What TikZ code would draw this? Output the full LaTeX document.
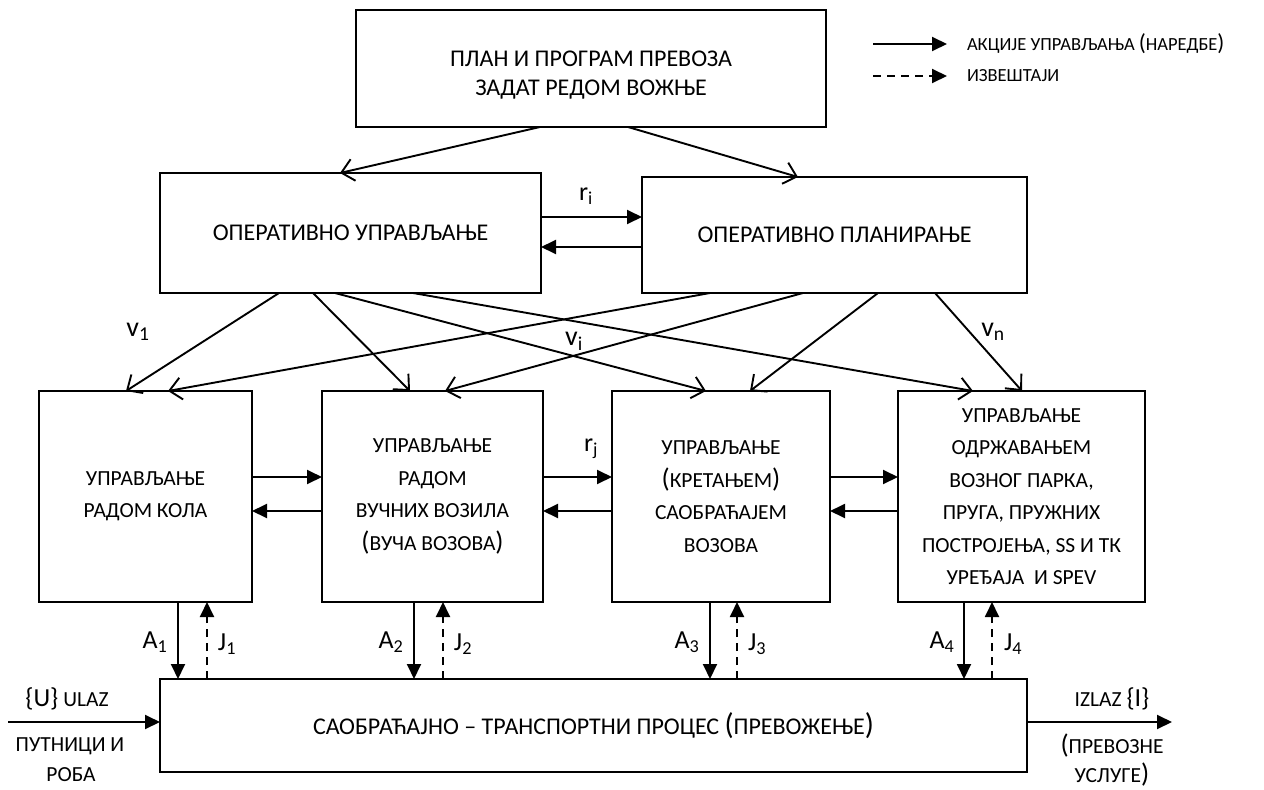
\documentclass[tikz,border=0pt]{standalone}
\usepackage{fontspec}
\setmainfont{Carlito}
\usetikzlibrary{arrows.meta}
\newcommand\bpar[1]{\scalebox{1.25}{#1}}
\begin{document}
\begin{tikzpicture}[x=1pt,y=-1pt,
  every node/.style={inner sep=0pt,outer sep=0pt},
  box/.style={draw,line width=1.9pt,align=center},
  bigtxt/.style={font=\fontsize{24}{33}\selectfont,align=center},
  toptxt/.style={font=\fontsize{24}{29}\selectfont,align=center},
  midtxt/.style={font=\fontsize{21.5}{32.5}\selectfont},
  legtxt/.style={font=\fontsize{18.5}{22}\selectfont},
  lbl/.style={font=\fontsize{26}{26}\selectfont},
  vlbl/.style={font=\fontsize{28}{28}\selectfont},
  side/.style={font=\fontsize{21.5}{24}\selectfont},
  ctrl/.style={line width=1.9pt,-{Triangle[length=15pt,width=14pt]}},
  rep/.style={ctrl,dash pattern=on 8pt off 6pt},
  diag/.style={line width=1.9pt,-{Straight Barb[length=12pt,width=22pt]}}]
\fill[white] (0,0) rectangle (1264,790);
\useasboundingbox (0,0) rectangle (1264,790);

% boxes
\node[box,minimum width=470,minimum height=117] (plan) at (591,68.5) {};
\node[toptxt] (plantext) at (591,75)
  {ПЛАН И ПРОГРАМ ПРЕВОЗА\\ЗАДАТ РЕДОМ ВОЖЊЕ};
\node[box,bigtxt,minimum width=381,minimum height=120] (ou) at (350.5,233)
  {ОПЕРАТИВНО УПРАВЉАЊЕ};
\node[box,bigtxt,minimum width=385,minimum height=116] (op) at (834.5,235)
  {ОПЕРАТИВНО ПЛАНИРАЊЕ};
\node[box,midtxt,minimum width=213,minimum height=211] (b1) at (145.5,496.5)
  {УПРАВЉАЊЕ\\РАДОМ КОЛА};
\node[box,midtxt,minimum width=221,minimum height=211] (b2) at (432.5,496.5)
  {УПРАВЉАЊЕ\\РАДОМ\\ВУЧНИХ ВОЗИЛА\\\bpar{(}ВУЧА ВОЗОВА\bpar{)}};
\node[box,midtxt,minimum width=218,minimum height=211] (b3) at (721,496.5)
  {УПРАВЉАЊЕ\\\bpar{(}КРЕТАЊЕМ\bpar{)}\\САОБРАЋАЈЕМ\\ВОЗОВА};
\node[box,midtxt,minimum width=247,minimum height=211] (b4) at (1021.5,496.5)
  {УПРАВЉАЊЕ\\ОДРЖАВАЊЕМ\\ВОЗНОГ ПАРКА,\\ПРУГА, ПРУЖНИХ\\ПОСТРОЈЕЊА, SS И ТК\\УРЕЂАЈА\ \ И SPEV};
\node[box,bigtxt,minimum width=867,minimum height=93] (proc) at (593.5,725.5)
  {САОБРАЋАЈНО – ТРАНСПОРТНИ ПРОЦЕС \bpar{(}ПРЕВОЖЕЊЕ\bpar{)}};

% legend
\coordinate (la1) at (873,44); \coordinate (la2) at (947,44);
\coordinate (lb1) at (873,76); \coordinate (lb2) at (947,76);
\draw[ctrl] (la1) -- (la2);
\draw[rep] (lb1) -- (lb2);
\node[legtxt,anchor=west] (lega) at (967,44) {АКЦИЈЕ УПРАВЉАЊА \bpar{(}НАРЕДБЕ\bpar{)}};
\node[legtxt,anchor=west] (legb) at (967,76) {ИЗВЕШТАЈИ};

% plan -> operative
\draw[diag] (plan.south -| 540,0) -- (ou.north -| 340,0);
\draw[diag] (plan.south -| 628,0) -- (op.north -| 798,0);

% ou <-> op
\draw[ctrl] (ou.east |- 0,217) -- (op.west |- 0,217);
\draw[ctrl] (op.west |- 0,247) -- (ou.east |- 0,247);
\node[lbl] (ri) at (586,196) {r\textsubscript{i}};

% diagonals
\draw[diag] (ou.south -| 279,0) -- (b1.north -| 126,0);
\draw[diag] (ou.south -| 313,0) -- (b2.north -| 410,0);
\draw[diag] (ou.south -| 335,0) -- (b3.north -| 706,0);
\draw[diag] (ou.south -| 413,0) -- (b4.north -| 973,0);
\draw[diag] (op.south -| 710,0) -- (b1.north -| 168,0);
\draw[diag] (op.south -| 803,0) -- (b2.north -| 445,0);
\draw[diag] (op.south -| 878,0) -- (b3.north -| 750,0);
\draw[diag] (op.south -| 935,0) -- (b4.north -| 1022,0);
\node[vlbl] (v1) at (138,332) {v\textsubscript{1}};
\node[vlbl] (vi) at (574,341) {v\textsubscript{i}};
\node[vlbl] (vn) at (993,332) {v\textsubscript{n}};

% row 3 horizontals
\draw[ctrl] (b1.east |- 0,477) -- (b2.west |- 0,477);
\draw[ctrl] (b2.west |- 0,511) -- (b1.east |- 0,511);
\draw[ctrl] (b2.east |- 0,477) -- (b3.west |- 0,477);
\draw[ctrl] (b3.west |- 0,511) -- (b2.east |- 0,511);
\draw[ctrl] (b3.east |- 0,477) -- (b4.west |- 0,477);
\draw[ctrl] (b4.west |- 0,511) -- (b3.east |- 0,511);
\node[lbl] (rj) at (591,449) {r\textsubscript{j}};

% verticals
\draw[ctrl] (b1.south -| 178,0) -- (proc.north -| 178,0);
\draw[rep] (proc.north -| 207,0) -- (b1.south -| 207,0);
\draw[ctrl] (b2.south -| 414,0) -- (proc.north -| 414,0);
\draw[rep] (proc.north -| 443,0) -- (b2.south -| 443,0);
\draw[ctrl] (b3.south -| 710,0) -- (proc.north -| 710,0);
\draw[rep] (proc.north -| 737,0) -- (b3.south -| 737,0);
\draw[ctrl] (b4.south -| 964,0) -- (proc.north -| 964,0);
\draw[rep] (proc.north -| 992,0) -- (b4.south -| 992,0);
\node[lbl] (a1) at (155,642) {A\textsubscript{1}};
\node[lbl] (j1) at (227,644) {J\textsubscript{1}};
\node[lbl] (a2) at (391,642) {A\textsubscript{2}};
\node[lbl] (j2) at (463,644) {J\textsubscript{2}};
\node[lbl] (a3) at (687,642) {A\textsubscript{3}};
\node[lbl] (j3) at (757,644) {J\textsubscript{3}};
\node[lbl] (a4) at (942,642) {A\textsubscript{4}};
\node[lbl] (j4) at (1013,644) {J\textsubscript{4}};

% input / output
\coordinate (inp) at (8,722);
\coordinate (outp) at (1172,722);
\draw[ctrl] (inp) -- (proc.west |- 0,722);
\draw[ctrl] (proc.east |- 0,722) -- (outp);
\node[side] (ulaz) at (67,699) {{\fontsize{26}{26}\selectfont\{U\}} ULAZ};
\node[side] (putn) at (70,746) {ПУТНИЦИ И};
\node[side] (roba) at (71,775) {РОБА};
\node[side] (izlaz) at (1112,699) {IZLAZ {\fontsize{26}{26}\selectfont\{I\}}};
\node[side] (prev) at (1112,746) {\bpar{(}ПРЕВОЗНЕ};
\node[side] (uslu) at (1112,775) {УСЛУГЕ\bpar{)}};
\end{tikzpicture}
\end{document}
